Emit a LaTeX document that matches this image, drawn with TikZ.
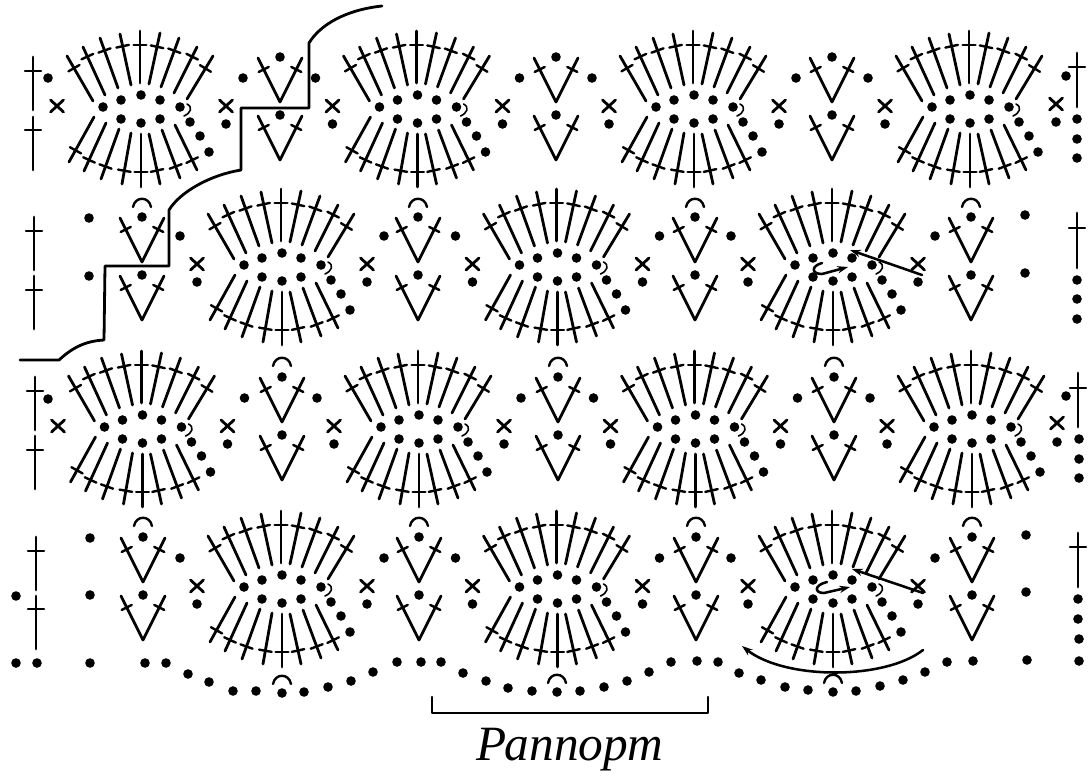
\documentclass[tikz,border=0pt]{standalone}
\usepackage{fontspec}
\setmainfont{Liberation Serif}
\usetikzlibrary{calc, arrows.meta}
\tikzset{
	stitch/.style={line width=2.1pt},
	crossbar/.style={line width=1.8pt},
	stair/.style={line width=2.1pt},
	lead/.style={line width=1.9pt, ->},
}
\newcommand{\knot}[2]{\fill (#1,#2) circle (3.6pt);}
\newcommand{\cross}[2]{\draw[stitch] (#1-6.5,#2-6)--(#1+6.5,#2+6) (#1-6.5,#2+6)--(#1+6.5,#2-6);}
\newcommand{\hook}[2]{\draw[crossbar] (#1-9,#2+4) .. controls (#1-7,#2-7) and (#1+7,#2-7) .. (#1+9,#2+4);}
\newcommand{\post}[4]{\draw[stitch] (#1,#2)--(#1,#3); \draw[crossbar] (#1-8,#4)--(#1+8,#4);}
% one stitch: inner end, outer end, place of the bar, half its length
\newcommand{\stick}[6]{
	\coordinate (st) at (#1,#2);
	\coordinate (en) at (#3,#4);
	\coordinate (br) at ($(st)!#5!(en)$);
	\draw[stitch] (st)--(en);
	\draw[crossbar] ($(br)!#6!90:(en)$)--($(br)!#6!-90:(en)$);
}
\newcommand{\fan}[2]{
	\foreach \xa/\ya/\xb/\yb/\f in {-48/-6/-74/-51/.73, -36/-12/-58/-60/.80, -23/-19/-41/-69/.75, -10/-22/-21/-73/.76, -1/-24/-1/-76/.73, 8/-23/19/-74/.73, 20/-20/38/-69/.74, 33/-14/56/-60/.79, 46/-8/72/-51/.71,
		-47/10/-72/55/.74, -35/16/-57/64/.77, -22/22/-40/72/.75, -10/26/-19/77/.74, 0/27/0/80/.72, 8/27/19/77/.73, 21/23/39/71/.76, 34/18/56/63/.78}
		{\stick{#1+\xa}{#2+\ya}{#1+\xb}{#2+\yb}{\f}{4.8pt}}
	\foreach \xa/\ya in {-38/0, -20/-7, 0/-12, 19/-7, 39/0, -20/12, 0/16, 19/12, 49/15, 59/29, 68/45}
		{\knot{#1+\xa}{#2+\ya}}
	\draw[line width=1.2pt] (#1+46,#2-3) .. controls (#1+52,#2) and (#1+50,#2+6) .. (#1+43,#2+9);
}
\newcommand{\twovee}[2]{
	\foreach \dy in {-5, 53} {
		\stick{#1}{#2+\dy}{#1-22}{#2+\dy-44}{.74}{4.2pt}
		\stick{#1}{#2+\dy}{#1+22}{#2+\dy-44}{.74}{4.2pt}
		\knot{#1}{#2+\dy-45}
	}
}
\newcommand{\rightside}[2]{\cross{#1+85}{#2-1} \knot{#1+85}{#2+17} \knot{#1+102}{#2-29}}
\newcommand{\leftside}[2]{\cross{#1-85}{#2-1} \knot{#1-85}{#2+17} \knot{#1-102}{#2-29}}
\begin{document}
\begin{tikzpicture}[x=0.75pt, y=-0.75pt, >={Stealth[length=8pt,width=5.5pt]}, line join=round, line cap=round]
	\useasboundingbox (0,0) rectangle (1091,778);
	% rows of fans
	\foreach \cx in {141,417.5,694,970} {\fan{\cx}{107}}
	\foreach \cx in {142.5,419,695.5,972} {\fan{\cx}{427}}
	\foreach \cx in {282,557.5,833} {\fan{\cx}{265} \fan{\cx}{587}
		\leftside{\cx}{265} \rightside{\cx}{265} \leftside{\cx}{587} \rightside{\cx}{587}}
	\foreach \cx in {141,417.5,694} {\rightside{\cx}{107}}
	\foreach \cx in {417.5,694,970} {\leftside{\cx}{107}}
	\foreach \cx in {142.5,419,695.5} {\rightside{\cx}{427}}
	\foreach \cx in {419,695.5,972} {\leftside{\cx}{427}}
	% rows of vees
	\foreach \vx in {280,556,832} {\twovee{\vx}{107}}
	\foreach \vx in {282,558,834} {\twovee{\vx}{427} \hook{\vx}{362}}
	\foreach \vx in {142,418,695,971} {\twovee{\vx}{267} \hook{\vx}{203}}
	\foreach \vx in {143,419,696,972} {\twovee{\vx}{587} \hook{\vx}{522}}
	% left edge
	\post{33}{57}{110}{71} \post{33}{117}{170}{130}
	\post{34}{217}{270}{231} \post{34}{276}{329}{290}
	\post{35}{377}{430}{391} \post{35}{436}{489}{450}
	\post{36}{537}{590}{551} \post{36}{596}{649}{609}
	\knot{48}{78} \cross{57}{106} \knot{48}{399} \cross{58}{426}
	\foreach \x/\y in {89/218, 89/276, 90/538, 90/595, 16/596} {\knot{\x}{\y}}
	% right edge
	\post{1077}{53}{107}{67} \post{1077}{213}{268}{228}
	\post{1078}{373}{427}{388} \post{1078}{533}{587}{547}
	\knot{1066}{76} \cross{1056}{104} \knot{1056}{122}
	\knot{1066}{396} \cross{1057}{423} \knot{1057}{442}
	\foreach \x/\y in {1077/119, 1077/139, 1077/158, 1077/280, 1077/299, 1077/319, 1079/439, 1079/459, 1079/478, 1078/599, 1078/619, 1079/639,
		1025/215, 1025/273, 1026/535, 1026/592} {\knot{\x}{\y}}
	% chain along the bottom
	\foreach \x/\y in {16/663, 37/663, 90/663, 145/663, 166/663, 188/674, 209/682, 233/691, 256/691, 282/693, 304/692, 328/687, 351/681, 373/672, 397/662,
		421/662, 441/662, 463/673, 486/681, 508/688, 532/691, 557/692, 580/691, 604/687, 627/681, 649/672, 671/662, 697/661, 718/662,
		739/673, 761/680, 785/687, 808/690, 833/692, 856/691, 880/686, 903/680, 925/672, 947/662, 973/661, 1027/660, 1079/661} {\knot{\x}{\y}}
	\foreach \x/\y in {282/680, 557/679, 833/679} {\hook{\x}{\y}}
	% stepped outline
	\draw[stair] (20,360)--(59,360) .. controls (72,348) and (85,341) .. (104,340)--(105,266)--(169,266)--(169,210)
		.. controls (180,192) and (210,175) .. (241,170)--(241,108)--(309,108)--(309,43) .. controls (320,25) and (345,10) .. (382,6);
	% working arrows
	\draw[lead] (922,275)--(850,250);
	\draw[lead] (822,263) .. controls (811,266) and (811,274) .. (822,274) -- (848,267);
	\draw[lead] (923,593)--(852,569);
	\draw[lead] (827,582) .. controls (814,585) and (814,593) .. (824,593) -- (850,587);
	\draw[lead] (923,650) .. controls (885,680) and (785,680) .. (742,646);
	% repeat bracket
	\draw[crossbar] (432,697)--(432,713)--(708,713)--(708,697);
	\node[anchor=base, inner sep=0pt] (repeatlabel) at (570,760) {\fontsize{37}{37}\selectfont\itshape Раппорт};
\end{tikzpicture}
\end{document}
